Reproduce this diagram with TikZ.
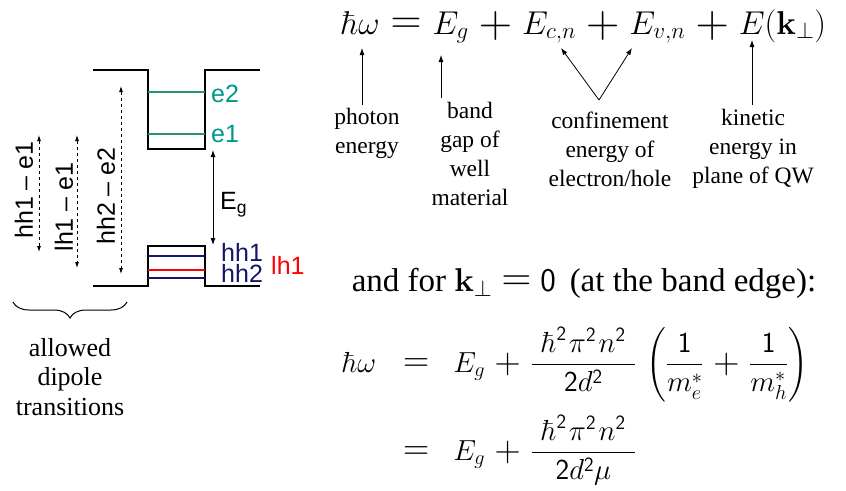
\RequirePackage{fix-cm}
\documentclass[tikz,border=0pt]{standalone}
\usepackage{amsmath}
\usepackage{graphicx}
\usepackage[no-math]{fontspec}
\setmainfont{Liberation Serif}
\setsansfont{Liberation Sans}
\usetikzlibrary{arrows.meta,decorations.pathreplacing}
\definecolor{elev}{RGB}{40,150,100}
\definecolor{elab}{RGB}{0,150,140}
\definecolor{navy}{RGB}{20,20,110}
\newcommand{\dg}[1]{\mathsf{#1}}
\newcommand{\bp}[1]{\mathbin{\vcenter{\hbox{\scalebox{#1}{$+$}}}}}
\newcommand{\beq}[1]{\mathrel{\vcenter{\hbox{\scalebox{#1}{$=$}}}}}
\newcommand{\hfrac}[1]{\frac{\mkern6mu\hbar^{\dg{2}}\mkern1.5mu\pi^{\dg{2}}\mkern1.5mu n^{\dg{2}}\mkern6mu}{\dg{2}d^{\dg{2}}#1}}
\begin{document}
\begin{tikzpicture}[x=1pt,y=-1pt,
  band/.style={line width=1.6pt,black},
  lev/.style={line width=1.3pt},
  darr/.style={dashed,line width=0.8pt,{Latex[length=6pt,width=4pt]}-{Latex[length=6pt,width=4pt]}},
  sarr/.style={line width=0.8pt,-{Latex[length=7pt,width=5pt]}},
  slab/.style={font=\sffamily\fontsize{25}{27}\selectfont,inner sep=0pt},
  tlab/.style={font=\fontsize{23.5}{29}\selectfont,align=center,inner sep=0pt}]
\useasboundingbox (0,0) rectangle (846,490);
% conduction band
\draw[band] (93,70) -- (148,70) -- (148,149) -- (205,149) -- (205,70) -- (260,70);
\draw[lev,elev] (148,92) -- (205,92);
\draw[lev,elev] (148,134) -- (205,134);
\node[slab,text=elab,anchor=west] (e2) at (211,94) {e2};
\node[slab,text=elab,anchor=west] (e1) at (211,134) {e1};
% valence band
\draw[band] (93,286) -- (148,286) -- (148,246) -- (205,246) -- (205,286) -- (260,286);
\draw[lev,navy] (148,256) -- (205,256);
\draw[lev,red] (148,270) -- (205,270);
\draw[lev,navy] (148,278) -- (205,278);
\node[slab,text=navy,anchor=west] (hh1) at (221,252) {hh1};
\node[slab,text=navy,anchor=west] (hh2) at (221,273) {hh2};
\node[slab,text=red,anchor=west] (lh1) at (271,265) {lh1};
% Eg arrow
\coordinate (gt) at (213,150);
\coordinate (gb) at (213,245);
\draw[line width=0.9pt,{Latex[length=7pt,width=5pt]}-{Latex[length=7pt,width=5pt]}] (gt) -- (gb);
\node[slab,anchor=west] (eg) at (220,205) {E\textsubscript{g}};
% transitions
\coordinate (a1) at (39,135); \coordinate (b1) at (39,252);
\coordinate (a2) at (77,135); \coordinate (b2) at (77,268);
\coordinate (a3) at (121,86); \coordinate (b3) at (121,274);
\draw[darr] (a1) -- (b1);
\draw[darr] (a2) -- (b2);
\draw[darr] (a3) -- (b3);
\node[slab,rotate=90] (t1) at (24,190) {hh1 -- e1};
\node[slab,rotate=90] (t2) at (64,207) {lh1 -- e1};
\node[slab,rotate=90] (t3) at (106,196) {hh2 -- e2};
% brace
\coordinate (bl) at (13,302);
\coordinate (br) at (127,302);
\draw[line width=1pt,decorate,decoration={brace,amplitude=16pt,mirror}] (bl) -- (br);
\node[tlab,font=\fontsize{26}{29.5}\selectfont] (allowed) at (70,377) {allowed\\dipole\\transitions};
% top equation
\node[inner sep=0pt,anchor=base west,font=\fontsize{33}{38}\selectfont] (eq1) at (341,34)
  {$\thickmuskip=6mu\medmuskip=5.5mu
    \hbar\omega \beq{1.3} E_g \bp{1.4} E_{c,n} \bp{1.4} E_{v,n} \bp{1.4} E(\mathbf{k}_\perp)$};
\node[tlab] (photon) at (367,133) {photon\\energy};
\node[tlab] (bandgap) at (470,154) {band\\gap of\\well\\material};
\node[tlab] (conf) at (610,149) {confinement\\energy of\\electron/hole};
\node[tlab] (kin) at (753,149) {kinetic\\energy in\\plane of QW};
\coordinate (p1) at (362,48);
\coordinate (p2) at (441,55);
\coordinate (c1) at (561,48);
\coordinate (c2) at (632,48);
\coordinate (cv) at (599,100);
\coordinate (k1) at (752,40);
\draw[sarr] (photon.north -| p1) ++(0,-3) -- (p1);
\draw[sarr] (bandgap.north -| p2) ++(0,-4) -- (p2);
\draw[sarr] (cv) -- (c1);
\draw[sarr] (cv) -- (c2);
\draw[sarr] (kin.north -| k1) ++(0,-4) -- (k1);
% band edge
\node[inner sep=0pt,font=\fontsize{33}{38}\selectfont] (edge) at (584,283)
  {and for $\mathbf{k}_\perp \beq{1.25} \dg{0}$\, (at the band edge):};
% bottom equations
\node[inner sep=0pt,anchor=base west,font=\fontsize{29}{34}\selectfont] (row1) at (342,372)
  {\makebox[61pt][l]{$\hbar\omega$}$\beq{1.25}$\hspace{24pt}$\displaystyle\medmuskip=6mu
   E_g \bp{1.25} \hfrac{}\mkern3mu
   \left(\frac{\dg{1}}{m_e^*}\bp{1.25}\frac{\dg{1}}{m_h^*}\right)$};
\node[inner sep=0pt,anchor=base west,font=\fontsize{29}{34}\selectfont] (row2) at (342,460)
  {\makebox[61pt][l]{}$\beq{1.25}$\hspace{24pt}$\displaystyle\medmuskip=6mu
   E_g \bp{1.25} \hfrac{\mu}$};
\end{tikzpicture}
\end{document}
